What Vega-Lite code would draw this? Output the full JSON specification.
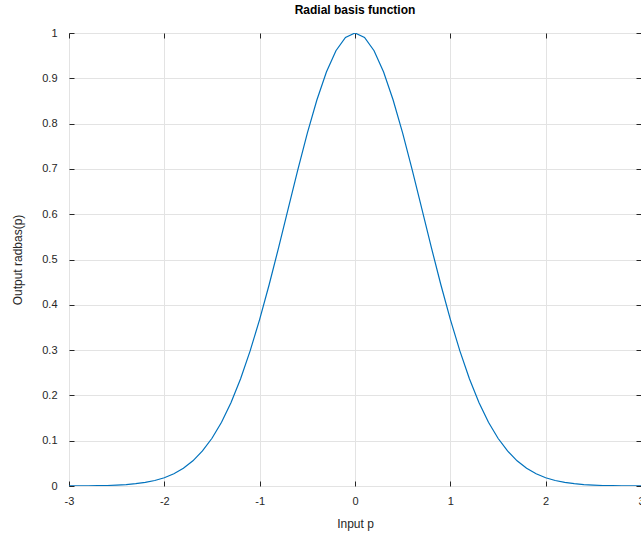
{
  "$schema": "https://vega.github.io/schema/vega-lite/v6.json",
  "width": 572,
  "height": 453,
  "autosize": {"type": "none"},
  "padding": {"left": 69, "top": 33, "right": 0, "bottom": 48},
  "background": "white",
  "config": {
    "view": {"stroke": "#262626", "strokeWidth": 1},
    "font": "Liberation Sans",
    "axis": {
      "domain": false,
      "tickColor": "#262626",
      "tickSize": -5,
      "labelColor": "#262626",
      "labelFontSize": 11,
      "labelFont": "Liberation Sans",
      "titleFont": "Liberation Sans",
      "titleFontSize": 12,
      "titleFontWeight": "normal",
      "titleColor": "#262626",
      "gridColor": "#e3e3e3",
      "gridWidth": 1,
      "labelFlush": false,
      "labelExpr": "'' + datum.value"
    }
  },
  "title": {
    "text": "Radial basis function",
    "fontSize": 12,
    "fontWeight": "bold",
    "font": "Liberation Sans",
    "color": "#000000",
    "offset": 10,
    "anchor": "middle"
  },
  "data": {
    "values": [
      {"p": -3.0, "a": 0.000123},
      {"p": -2.9, "a": 0.000223},
      {"p": -2.8, "a": 0.000394},
      {"p": -2.7, "a": 0.000682},
      {"p": -2.6, "a": 0.001159},
      {"p": -2.5, "a": 0.001930},
      {"p": -2.4, "a": 0.003151},
      {"p": -2.3, "a": 0.005042},
      {"p": -2.2, "a": 0.007907},
      {"p": -2.1, "a": 0.012155},
      {"p": -2.0, "a": 0.018316},
      {"p": -1.9, "a": 0.027052},
      {"p": -1.8, "a": 0.039164},
      {"p": -1.7, "a": 0.055576},
      {"p": -1.6, "a": 0.077305},
      {"p": -1.5, "a": 0.105399},
      {"p": -1.4, "a": 0.140858},
      {"p": -1.3, "a": 0.184520},
      {"p": -1.2, "a": 0.236928},
      {"p": -1.1, "a": 0.298197},
      {"p": -1.0, "a": 0.367879},
      {"p": -0.9, "a": 0.444858},
      {"p": -0.8, "a": 0.527292},
      {"p": -0.7, "a": 0.612626},
      {"p": -0.6, "a": 0.697676},
      {"p": -0.5, "a": 0.778801},
      {"p": -0.4, "a": 0.852144},
      {"p": -0.3, "a": 0.913931},
      {"p": -0.2, "a": 0.960789},
      {"p": -0.1, "a": 0.990050},
      {"p": 0.0, "a": 1.0},
      {"p": 0.1, "a": 0.990050},
      {"p": 0.2, "a": 0.960789},
      {"p": 0.3, "a": 0.913931},
      {"p": 0.4, "a": 0.852144},
      {"p": 0.5, "a": 0.778801},
      {"p": 0.6, "a": 0.697676},
      {"p": 0.7, "a": 0.612626},
      {"p": 0.8, "a": 0.527292},
      {"p": 0.9, "a": 0.444858},
      {"p": 1.0, "a": 0.367879},
      {"p": 1.1, "a": 0.298197},
      {"p": 1.2, "a": 0.236928},
      {"p": 1.3, "a": 0.184520},
      {"p": 1.4, "a": 0.140858},
      {"p": 1.5, "a": 0.105399},
      {"p": 1.6, "a": 0.077305},
      {"p": 1.7, "a": 0.055576},
      {"p": 1.8, "a": 0.039164},
      {"p": 1.9, "a": 0.027052},
      {"p": 2.0, "a": 0.018316},
      {"p": 2.1, "a": 0.012155},
      {"p": 2.2, "a": 0.007907},
      {"p": 2.3, "a": 0.005042},
      {"p": 2.4, "a": 0.003151},
      {"p": 2.5, "a": 0.001930},
      {"p": 2.6, "a": 0.001159},
      {"p": 2.7, "a": 0.000682},
      {"p": 2.8, "a": 0.000394},
      {"p": 2.9, "a": 0.000223},
      {"p": 3.0, "a": 0.000123}
    ]
  },
  "layer": [
    {
      "mark": {"type": "line", "color": "#0072BD", "strokeWidth": 1.2, "clip": true},
      "encoding": {
        "x": {
          "field": "p", "type": "quantitative",
          "scale": {"domain": [-3, 3], "nice": false, "zero": false},
          "axis": {"orient": "bottom", "values": [-3, -2, -1, 0, 1, 2, 3], "title": "Input p", "labelPadding": 14, "titlePadding": 12, "grid": true}
        },
        "y": {
          "field": "a", "type": "quantitative",
          "scale": {"domain": [0, 1], "nice": false, "zero": false},
          "axis": {"orient": "left", "values": [0, 0.1, 0.2, 0.3, 0.4, 0.5, 0.6, 0.7, 0.8, 0.9, 1], "title": "Output radbas(p)", "labelPadding": 17, "titlePadding": 17, "grid": true}
        }
      }
    },
    {
      "mark": {"type": "line", "opacity": 0},
      "encoding": {
        "x": {
          "field": "p", "type": "quantitative",
          "axis": {"orient": "top", "values": [-3, -2, -1, 0, 1, 2, 3], "labels": false, "title": null, "grid": false}
        },
        "y": {
          "field": "a", "type": "quantitative",
          "axis": {"orient": "right", "values": [0, 0.1, 0.2, 0.3, 0.4, 0.5, 0.6, 0.7, 0.8, 0.9, 1], "labels": false, "title": null, "grid": false}
        }
      }
    }
  ],
  "resolve": {"axis": {"x": "independent", "y": "independent"}}
}
